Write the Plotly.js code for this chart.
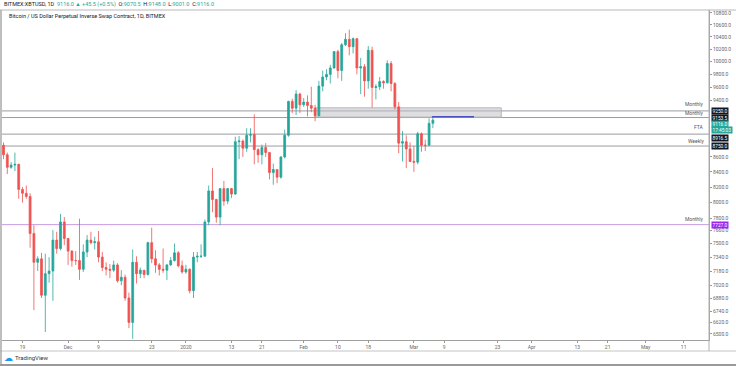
<!DOCTYPE html>
<html><head><meta charset="utf-8">
<script src="https://cdn.plot.ly/plotly-3.0.1.min.js"></script>
<style>html,body{margin:0;padding:0;background:#fff}#chart{width:736px;height:366px}</style>
</head><body><div id="chart"></div>
<script>
const dates = [
'2019-11-14','2019-11-15','2019-11-16','2019-11-17','2019-11-18','2019-11-19','2019-11-20','2019-11-21','2019-11-22','2019-11-23',
'2019-11-24','2019-11-25','2019-11-26','2019-11-27','2019-11-28','2019-11-29','2019-11-30','2019-12-01','2019-12-02','2019-12-03',
'2019-12-04','2019-12-05','2019-12-06','2019-12-07','2019-12-08','2019-12-09','2019-12-10','2019-12-11','2019-12-12','2019-12-13',
'2019-12-14','2019-12-15','2019-12-16','2019-12-17','2019-12-18','2019-12-19','2019-12-20','2019-12-21','2019-12-22','2019-12-23',
'2019-12-24','2019-12-25','2019-12-26','2019-12-27','2019-12-28','2019-12-29','2019-12-30','2019-12-31','2020-01-01','2020-01-02',
'2020-01-03','2020-01-04','2020-01-05','2020-01-06','2020-01-07','2020-01-08','2020-01-09','2020-01-10','2020-01-11','2020-01-12',
'2020-01-13','2020-01-14','2020-01-15','2020-01-16','2020-01-17','2020-01-18','2020-01-19','2020-01-20','2020-01-21','2020-01-22',
'2020-01-23','2020-01-24','2020-01-25','2020-01-26','2020-01-27','2020-01-28','2020-01-29','2020-01-30','2020-01-31','2020-02-01',
'2020-02-02','2020-02-03','2020-02-04','2020-02-05','2020-02-06','2020-02-07','2020-02-08','2020-02-09','2020-02-10','2020-02-11',
'2020-02-12','2020-02-13','2020-02-14','2020-02-15','2020-02-16','2020-02-17','2020-02-18','2020-02-19','2020-02-20','2020-02-21',
'2020-02-22','2020-02-23','2020-02-24','2020-02-25','2020-02-26','2020-02-27','2020-02-28','2020-02-29','2020-03-01','2020-03-02',
'2020-03-03','2020-03-04','2020-03-05','2020-03-06'];
const opens = [
8760,8630,8460,8490,8500,8170,8120,8080,7620,7280,
7320,6910,7150,7180,7540,7440,7760,7560,7410,7300,
7300,7200,7400,7540,7510,7520,7340,7220,7200,7190,
7250,7070,7110,6880,6620,7280,7150,7190,7140,7510,
7320,7250,7200,7190,7250,7300,7390,7240,7170,7200,
6960,7340,7350,7350,7760,8150,8040,7820,8180,8020,
8180,8110,8810,8820,8720,8900,8910,8700,8630,8730,
8660,8390,8430,8330,8600,8900,9390,9290,9500,9340,
9380,9330,9290,9180,9620,9760,9800,9900,10160,9860,
10270,10360,10240,10370,9900,9920,9700,10180,9600,9610,
9690,9670,9970,9660,9310,8790,8810,8710,8540,8530,
8920,8760,8760,9070.5];
const highs = [
8800,8660,8530,8660,8510,8200,8220,8120,7720,7350,
7390,7380,7340,7660,7640,7860,7820,7560,7420,7410,
7800,7490,7600,7640,7580,7650,7400,7280,7260,7300,
7270,7190,7140,6940,7430,7350,7220,7190,7520,7690,
7420,7270,7440,7260,7340,7500,7410,7300,7250,7210,
7400,7400,7490,7790,8220,8450,8050,8180,8280,8190,
8190,8880,8890,8840,9000,9000,9200,8720,8770,8790,
8660,8510,8430,8610,8980,9400,9430,9560,9520,9440,
9480,9610,9340,9700,9860,9880,9950,10160,10190,10300,
10460,10520,10390,10380,10060,9960,10250,10240,9650,9760,
9710,10020,10010,9680,9380,8960,8900,8800,8750,8950,
8940,8840,9140,9148];
const lows = [
8570,8370,8440,8410,8050,8000,8050,7450,6750,7180,
6880,6520,7050,6850,7380,7420,7480,7250,7230,7250,
7080,7170,7340,7490,7430,7280,7180,7130,7100,7170,
7050,7020,6850,6560,6450,7040,7100,7100,7130,7270,
7160,7130,7160,7080,7240,7290,7220,7150,7150,6930,
6880,7280,7330,7350,7720,7880,7750,7720,7960,7980,
8060,8100,8570,8600,8670,8800,8500,8520,8500,8600,
8300,8230,8250,8310,8580,8880,9220,9190,9220,9310,
9170,9230,9100,9170,9540,9710,9660,9890,9740,9700,
10250,10100,10130,9800,9500,9460,9580,9300,9420,9560,
9580,9660,9540,9270,8650,8540,8450,8530,8400,8500,
8670,8680,8760,9001];
const closes = [
8630,8460,8490,8500,8170,8120,8080,7620,7280,7320,
6910,7150,7180,7540,7440,7760,7560,7410,7300,7300,
7200,7400,7540,7510,7520,7340,7220,7200,7190,7250,
7070,7110,6880,6620,7280,7150,7190,7140,7510,7320,
7250,7200,7190,7250,7300,7390,7240,7170,7200,6960,
7340,7350,7350,7760,8150,8040,7820,8180,8020,8180,
8110,8810,8820,8720,8900,8910,8700,8630,8730,8660,
8390,8430,8330,8600,8900,9390,9290,9500,9340,9380,
9330,9290,9180,9620,9760,9800,9900,10160,9860,10270,
10360,10240,10370,9900,9920,9700,10180,9600,9610,9690,
9670,9970,9660,9310,8790,8810,8710,8540,8530,8920,
8760,8760,9070.5,9116];

// horizontal levels
const levelValues = [9250, 9153.5, 8916.5, 8750];
const levelNames = ['Monthly', 'Monthly', 'FTA', 'Weekly'];
const levelLabels = ['9250.0', '9153.5', '8916.5', '8750.0'];
const purpleLevel = 7727;
const purpleName = 'Monthly';
const purpleLabel = '7727.0';
const zoneRange = [9160, 9295];
const zoneDates = ['2020-02-04', '2020-03-24'];
const rayLevel = 9165;
const rayDates = ['2020-03-05 18:00', '2020-03-16 20:00'];
const lastPrice = 9116;
const lastLabel = '9116.0';
const countdown = '17:45:03';

const yTickVals = [10800,10600,10400,10200,10000,9800,9600,9400,8600,8400,8200,8000,7800,7660,7500,7340,7180,7020,6880,6740,6620,6500];
const xTickVals = ['2019-11-19','2019-12-01','2019-12-09','2019-12-23','2020-01-01','2020-01-13','2020-01-21','2020-02-01','2020-02-10','2020-02-18','2020-03-01','2020-03-09','2020-03-23','2020-04-01','2020-04-13','2020-04-21','2020-05-01','2020-05-11'];
const xTickText = ['19','Dec','9','23','2020','13','21','Feb','10','18','Mar','9','23','Apr','13','21','May','11'];

const UP = '#26a69a', DOWN = '#ef5350';
const FONT = 'Roboto, "Open Sans", sans-serif';

// plot area geometry (pixels) for paper-ref frame decorations
const PL = 2, PR = 709, PT = 10, PB = 340, W = 736, H = 366;
const px = v => (v - PL) / (PR - PL);
const py = v => (PB - v) / (PB - PT);

const shapes = [];
levelValues.forEach(v => shapes.push({type:'line', xref:'paper', x0:0, x1:1, yref:'y', y0:v, y1:v,
  line:{color:'#9a9ca3', width:1}, layer:'below'}));
shapes.push({type:'line', xref:'paper', x0:0, x1:1, yref:'y', y0:purpleLevel, y1:purpleLevel,
  line:{color:'#c99be0', width:1}, layer:'below'});
shapes.push({type:'rect', xref:'x', x0:zoneDates[0], x1:zoneDates[1], yref:'y', y0:zoneRange[0], y1:zoneRange[1],
  fillcolor:'rgba(190,190,195,0.5)', line:{color:'#b5b5b8', width:1}, layer:'below'});
shapes.push({type:'line', xref:'x', x0:rayDates[0], x1:rayDates[1], yref:'y', y0:rayLevel, y1:rayLevel,
  line:{color:'#4a4fc4', width:1.3}});
// frame
shapes.push({type:'line', xref:'paper', yref:'paper', x0:px(0), x1:px(W), y0:py(PT), y1:py(PT), line:{color:'#b8b8b8', width:1}});
shapes.push({type:'line', xref:'paper', yref:'paper', x0:px(0), x1:px(W), y0:py(351), y1:py(351), line:{color:'#c4c4c4', width:1}});
shapes.push({type:'line', xref:'paper', yref:'paper', x0:1, x1:1, y0:py(351), y1:py(PT), line:{color:'#b0b0b0', width:1}});
shapes.push({type:'line', xref:'paper', yref:'paper', x0:px(1), x1:px(1), y0:py(H), y1:py(PT), line:{color:'#a8a8a8', width:1.5}});
shapes.push({type:'line', xref:'paper', yref:'paper', x0:px(0), x1:px(W), y0:py(365), y1:py(365), line:{color:'#9a9a9a', width:2}});

const annotations = [];
annotations.push({xref:'paper', yref:'paper', x:px(2), y:py(4.5), xanchor:'left', yanchor:'middle', showarrow:false,
  font:{family:FONT, size:5.5, color:'#131722'},
  text:'BITMEX:XBTUSD, 1D  <span style="color:'+UP+'">'+lastLabel+' ▲ +45.5 (+0.5%)</span>  O:<span style="color:'+UP+'">9070.5</span>  H:<span style="color:'+UP+'">9148.0</span>  L:<span style="color:'+UP+'">9001.0</span>  C:<span style="color:'+UP+'">'+lastLabel+'</span>'});
annotations.push({xref:'paper', yref:'paper', x:px(7), y:py(16), xanchor:'left', yanchor:'middle', showarrow:false,
  font:{family:FONT, size:5.5, color:'#131722'}, text:'Bitcoin / US Dollar Perpetual Inverse Swap Contract, 1D, BITMEX'});
const nameShift = [2, 0, 2, 0];
levelValues.forEach((v, i) => annotations.push({xref:'paper', yref:'y', x:px(706), y:Math.log10(v), xanchor:'right', yanchor:'bottom',
  yshift:nameShift[i], showarrow:false, font:{family:FONT, size:5, color:'#555'}, text:levelNames[i]}));
annotations.push({xref:'paper', yref:'y', x:px(706), y:Math.log10(purpleLevel), xanchor:'right', yanchor:'bottom',
  yshift:1, showarrow:false, font:{family:FONT, size:5, color:'#555'}, text:purpleName});
// axis price boxes
const boxShift = [0, 0, -4, 0];
levelValues.forEach((v, i) => annotations.push({xref:'paper', yref:'y', x:px(711), y:Math.log10(v), xanchor:'left', yanchor:'middle',
  yshift:boxShift[i], showarrow:false, bgcolor:'#131722', borderpad:0.5, font:{family:FONT, size:4.8, color:'#fff'}, text:levelLabels[i]}));
annotations.push({xref:'paper', yref:'y', x:px(711), y:Math.log10(lastPrice), xanchor:'left', yanchor:'middle',
  yshift:-3.5, showarrow:false, bgcolor:UP, borderpad:0.5, font:{family:FONT, size:4.8, color:'#fff'}, text:lastLabel});
annotations.push({xref:'paper', yref:'y', x:px(711), y:Math.log10(lastPrice), xanchor:'left', yanchor:'middle',
  yshift:-10, showarrow:false, bgcolor:UP, borderpad:0.5, font:{family:FONT, size:4.8, color:'#fff'}, text:countdown});
annotations.push({xref:'paper', yref:'y', x:px(711), y:Math.log10(purpleLevel), xanchor:'left', yanchor:'middle',
  showarrow:false, bgcolor:'#9b27f0', borderpad:0.5, font:{family:FONT, size:4.8, color:'#fff'}, text:purpleLabel});
// TradingView branding
annotations.push({xref:'paper', yref:'paper', x:px(2), y:py(358), xanchor:'left', yanchor:'middle', showarrow:false,
  font:{family:'DejaVu Sans', size:9, color:'#2196f3'}, text:'☁'});
annotations.push({xref:'paper', yref:'paper', x:px(13), y:py(358), xanchor:'left', yanchor:'middle', showarrow:false,
  font:{family:FONT, size:6, color:'#333'}, text:'TradingView'});

const trace = {
  type:'candlestick', x:dates, open:opens, high:highs, low:lows, close:closes,
  increasing:{line:{color:UP, width:0.8}, fillcolor:UP},
  decreasing:{line:{color:DOWN, width:0.8}, fillcolor:DOWN},
  whiskerwidth:0, hoverinfo:'none'
};

const layout = {
  width:W, height:H,
  margin:{l:PL, r:W-PR, t:PT, b:H-PB, pad:0},
  paper_bgcolor:'#fff', plot_bgcolor:'#fff', showlegend:false,
  font:{family:FONT, size:5, color:'#666'},
  xaxis:{type:'date', range:['2019-11-13 14:30','2020-05-17 16:00'], tickvals:xTickVals, ticktext:xTickText,
    ticks:'outside', ticklen:2, tickcolor:'#999', showgrid:false, zeroline:false, showline:true, linecolor:'#a0a0a0', linewidth:1,
    rangeslider:{visible:false}, tickfont:{family:FONT, size:5, color:'#666'}, fixedrange:true},
  yaxis:{type:'log', side:'right', range:[Math.log10(6438), Math.log10(10851)], tickvals:yTickVals,
    ticktext:yTickVals.map(v => v.toFixed(1)), ticks:'outside', ticklen:2, tickcolor:'#999', showgrid:false, zeroline:false,
    showline:true, linecolor:'#a0a0a0', linewidth:1, tickfont:{family:FONT, size:5, color:'#666'}, fixedrange:true},
  shapes:shapes, annotations:annotations
};

Plotly.newPlot('chart', [trace], layout, {staticPlot:true, displayModeBar:false});
</script>
</body></html>
